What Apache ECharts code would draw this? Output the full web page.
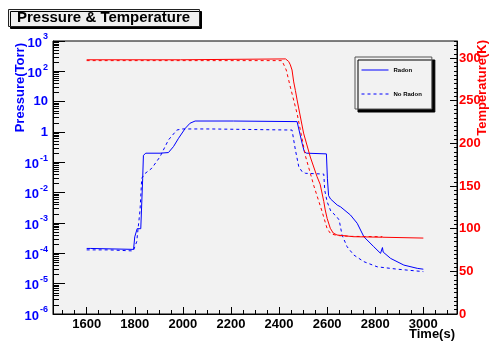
<!DOCTYPE html>
<html><head><meta charset="utf-8">
<script src="https://cdn.jsdelivr.net/npm/echarts@6/dist/echarts.min.js"></script>
<style>html,body{margin:0;padding:0;background:#fff}#c{width:491px;height:341px}</style>
</head><body><div id="c"></div>
<script>
// ---- data ----
var radonPT = [1600,1615,1620,1795,1800,1805,1810,1825,1829,1833,1836,1846,1905,1940,1961,1982,2010,2030,2051,2210,2215,2475,2485,2496,2505,2515,2597,2601,2606,2614,2642,2656,2697,2725,2753,2794,2822,2828,2830,2833,2864,2919,2975,3000];
var radonP  = [1.45e-4,1.45e-4,1.35e-4,1.35e-4,3.5e-4,4.0e-4,6.5e-4,6.5e-4,6.0e-4,0.03,0.17,0.2,0.2,0.21,0.33,0.62,1.32,1.95,2.3,2.3,2.2,2.2,1.0,0.42,0.224,0.2,0.19,0.03,0.008,0.0062,0.0039,0.0034,0.00183,9.8e-4,3.5e-4,1.65e-4,1.0e-4,1.0e-4,1.55e-4,1.1e-4,6.8e-5,4.1e-5,3.2e-5,3.0e-5];
var noRadonPT = [1600,1690,1692,1794,1808,1815,1822,1829,1843,1871,1905,1940,1975,1996,2114,2118,2454,2458,2468,2482,2496,2510,2586,2590,2600,2615,2640,2650,2662,2683,2711,2753,2808,2892,3000];
var noRadonP  = [1.3e-4,1.3e-4,1.2e-4,1.2e-4,2.4e-4,8e-4,0.0027,0.03,0.043,0.064,0.153,0.545,1.16,1.26,1.26,1.16,1.16,1.0,0.255,0.072,0.049,0.0435,0.041,0.012,0.005,0.0025,0.0016,0.00125,4e-4,1.65e-4,8.8e-5,5.3e-5,3.6e-5,3.0e-5,2.5e-5];
var radonTT = [1600,1990,1995,2427,2440,2447,2454,2461,2468,2475,2502,2530,2558,2571,2586,2592,2600,2613,2625,2641,2710,2830,3000];
var radonT  = [298,298,299,299,296,292,286,272,262,251,212,184,161,152,132,122,112,100.5,95,92.6,90.6,90,89];
var noRadonTT = [1600,2412,2420,2430,2447,2475,2510,2545,2579,2600,2615,2642,2700,2830];
var noRadonT  = [297,297,295,286,266,235,185,150,120,100,94,92,91,90.6];
var xLabels = [1600,1800,2000,2200,2400,2600,2800,3000];
var pLabels = [1e-6,1e-5,1e-4,1e-3,1e-2,1e-1,1,10,100,1000];
var tLabels = [0,50,100,150,200,250,300];

function zip(a,b){return a.map(function(v,i){return [v,b[i]];});}
function range(a,b,s){var r=[];for(var v=a;v<=b+1e-9;v+=s)r.push(v);return r;}
var xMinor = range(1500,3100,50);
var pMinor = [];
for (var e=-6;e<3;e++){for (var m=2;m<=9;m++){pMinor.push(m*Math.pow(10,e));}}
var tMinor = range(0,320,5);

var FONT = '"Liberation Sans", Arial, Helvetica, sans-serif';
var BLUE = '#0000ff', RED = '#ff0000';

var chart = echarts.init(document.getElementById('c'), null, {renderer:'canvas'});
var gridDef = {left:53, right:34, top:41, bottom:27, show:true, backgroundColor:'#f2f2f2', borderColor:'#000', borderWidth:1};

chart.setOption({
  animation:false,
  backgroundColor:'#ffffff',
  title:{
    text:'Pressure & Temperature', left:8, top:9,
    padding:[1,10,1,9],
    backgroundColor:'#f0f0f0', borderColor:'#222', borderWidth:1,
    shadowColor:'#000', shadowOffsetX:2, shadowOffsetY:2, shadowBlur:0,
    textStyle:{fontFamily:FONT, fontWeight:'bold', fontSize:15, color:'#000', lineHeight:16}
  },
  legend:{
    data:['Radon','No Radon'], orient:'vertical', left:355, top:57,
    padding:[10,10,12,6], itemGap:18, itemWidth:27, itemHeight:7,
    backgroundColor:'#f2f2f2', borderColor:'#555', borderWidth:1,
    shadowColor:'#000', shadowOffsetX:3, shadowOffsetY:3, shadowBlur:0,
    itemStyle:{opacity:0}, lineStyle:{width:1},
    textStyle:{fontFamily:FONT, fontSize:6, fontWeight:'bold', color:'#000'}
  },
  grid: gridDef,
  xAxis:[
    {type:'value', min:1460, max:3140, position:'bottom',
     axisLine:{show:true, lineStyle:{color:'#000'}},
     axisTick:{show:true, inside:true, length:7, customValues:xLabels, lineStyle:{color:'#000'}},
     axisLabel:{show:true, customValues:xLabels, margin:4, color:'#000', fontFamily:FONT, fontWeight:'bold', fontSize:13,
       formatter:function(v){return String(Math.round(v));}},
     splitLine:{show:false}},
    {type:'value', min:1460, max:3140, position:'bottom', gridIndex:0,
     axisLine:{show:false},
     axisTick:{show:true, inside:true, length:4, customValues:xMinor, lineStyle:{color:'#000'}},
     axisLabel:{show:false}, splitLine:{show:false}}
  ],
  yAxis:[
    {type:'log', logBase:10, min:1e-6, max:1e3, position:'left',
     axisLine:{show:true, lineStyle:{color:'#000'}},
     axisTick:{show:true, inside:true, length:12, customValues:pLabels, lineStyle:{color:'#000'}},
     axisLabel:{show:true, customValues:pLabels, margin:5, color:BLUE, fontFamily:FONT, fontWeight:'bold', fontSize:13,
       formatter:function(v){var ex=Math.round(Math.log10(v)); if(ex===0)return '1'; if(ex===1)return '10'; return '{b|10}{s|'+ex+'}';},
       rich:{b:{fontFamily:FONT, fontWeight:'bold', fontSize:13, color:BLUE, padding:[4,0,0,0]},
             s:{fontFamily:FONT, fontWeight:'bold', fontSize:9, color:BLUE, verticalAlign:'top', padding:[0,0,6,1]}}},
     splitLine:{show:false}},
    {type:'value', min:0, max:320, position:'right',
     axisLine:{show:true, lineStyle:{color:'#000'}},
     axisTick:{show:true, inside:true, length:7, customValues:tLabels, lineStyle:{color:'#000'}},
     axisLabel:{show:true, customValues:tLabels, margin:2, color:RED, fontFamily:FONT, fontWeight:'bold', fontSize:13},
     splitLine:{show:false}},
    {type:'log', logBase:10, min:1e-6, max:1e3, position:'left',
     axisLine:{show:false},
     axisTick:{show:true, inside:true, length:6, customValues:pMinor, lineStyle:{color:'#000'}},
     axisLabel:{show:false}, splitLine:{show:false}},
    {type:'value', min:0, max:320, position:'right',
     axisLine:{show:false},
     axisTick:{show:true, inside:true, length:3, customValues:tMinor, lineStyle:{color:'#000'}},
     axisLabel:{show:false}, splitLine:{show:false}}
  ],
  graphic:[
    {type:'text', left:14, top:43, rotation:Math.PI/2,
     style:{text:'Pressure(Torr)', fill:BLUE, font:'bold 13px '+FONT}},
    {type:'text', left:476, top:40, rotation:Math.PI/2,
     style:{text:'Temperature(K)', fill:RED, font:'bold 13px '+FONT}},
    {type:'text', right:36, top:328,
     style:{text:'Time(s)', fill:'#000', font:'bold 13px '+FONT}}
  ],
  series:[
    {name:'Radon', type:'line', xAxisIndex:0, yAxisIndex:0, data:zip(radonPT,radonP), showSymbol:false, symbol:'none',
     lineStyle:{color:BLUE, width:1}, itemStyle:{color:BLUE}},
    {name:'No Radon', type:'line', xAxisIndex:0, yAxisIndex:0, data:zip(noRadonPT,noRadonP), showSymbol:false, symbol:'none',
     lineStyle:{color:BLUE, width:1, type:[3,3]}, itemStyle:{color:BLUE}},
    {name:'Radon T', type:'line', xAxisIndex:0, yAxisIndex:1, data:zip(radonTT,radonT), showSymbol:false, symbol:'none',
     lineStyle:{color:RED, width:1}, itemStyle:{color:RED}},
    {name:'No Radon T', type:'line', xAxisIndex:0, yAxisIndex:1, data:zip(noRadonTT,noRadonT), showSymbol:false, symbol:'none',
     lineStyle:{color:RED, width:1, type:[3,3]}, itemStyle:{color:RED}}
  ]
});
</script></body></html>
